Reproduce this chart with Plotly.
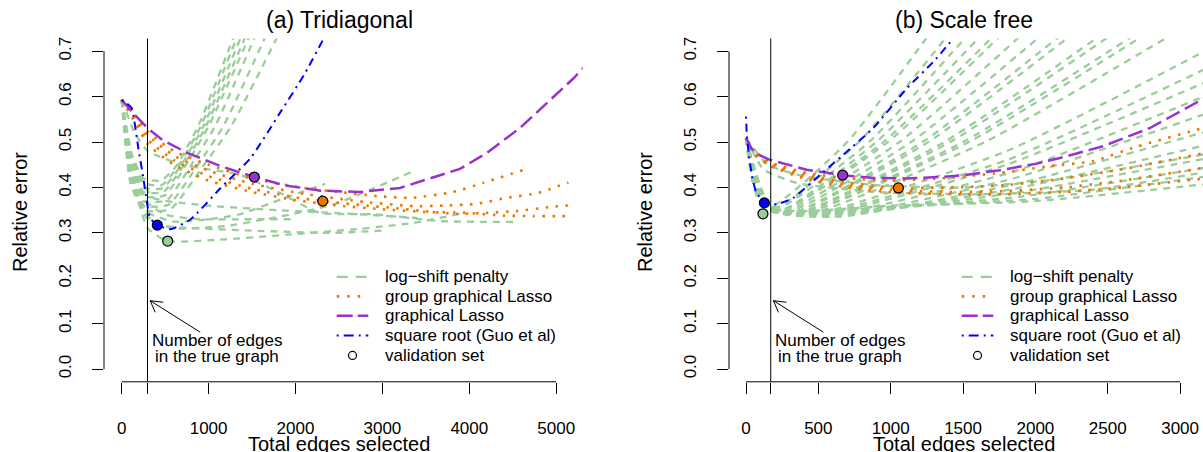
import plotly.graph_objects as go

# ---------------- data ----------------
# (a) Tridiagonal
true_edges_a = 297
left_logshift = [
    [(0, .593), (100, .48), (250, .42), (450, .415), (620, .445), (880, .535), (1295, .735)],
    [(0, .593), (100, .47), (250, .41), (460, .405), (645, .445), (910, .535), (1335, .735)],
    [(0, .593), (100, .46), (250, .40), (470, .398), (670, .445), (940, .535), (1380, .735)],
    [(0, .593), (100, .45), (250, .39), (480, .39), (700, .445), (970, .535), (1430, .735)],
    [(0, .593), (100, .44), (250, .38), (500, .383), (725, .445), (1000, .535), (1475, .735)],
    [(0, .593), (100, .43), (250, .37), (520, .372), (785, .445), (1075, .535), (1540, .735)],
    [(0, .593), (100, .42), (250, .36), (540, .362), (860, .445), (1170, .535), (1660, .735)],
    [(0, .593), (100, .41), (250, .35), (560, .352), (930, .445), (1260, .535), (1800, .735)],
    [(0, .593), (120, .42), (300, .345), (600, .325), (1000, .33), (1362, .341), (1850, .375), (2342, .408)],
    [(0, .593), (120, .41), (300, .33), (600, .31), (1200, .315), (2054, .345), (2474, .365), (2900, .398), (3380, .438)],
    [(0, .593), (150, .40), (300, .31), (525, .282), (1131, .285), (1900, .296), (2742, .309), (3356, .322), (3893, .342)],
    [(0, .593), (150, .52), (300, .48), (700, .45), (1000, .44), (1362, .428), (1800, .39), (2281, .344), (2896, .341), (3664, .326), (4505, .324)],
    [(0, .593), (120, .47), (250, .41), (364, .377), (1000, .36), (1800, .35), (2742, .341), (3400, .333)],
    [(0, .593), (100, .44), (250, .35), (400, .318), (675, .312), (1500, .305), (2400, .30), (3000, .305)],
    [(0, .593), (130, .45), (280, .37), (500, .34), (900, .33), (1400, .33), (2000, .33)],
]
left_group = [
    [(0, .593), (150, .56), (300, .523), (600, .48), (1000, .45), (1500, .42), (2090, .399), (2500, .39), (3000, .38), (3337, .377), (3813, .39), (4158, .41), (4630, .439)],
    [(0, .593), (150, .555), (300, .515), (600, .47), (1000, .437), (1500, .408), (2130, .385), (2800, .368), (3356, .359), (3700, .360), (4085, .364), (4430, .377), (4794, .388), (5140, .411)],
    [(0, .593), (150, .55), (300, .505), (600, .46), (1000, .425), (1500, .397), (2000, .378), (2313, .370), (2820, .36), (3126, .355), (3471, .348), (3855, .342), (4200, .344), (4545, .348), (4929, .357), (5170, .361)],
    [(0, .593), (150, .545), (300, .495), (600, .45), (1000, .415), (1500, .39), (2000, .372), (2500, .36), (3000, .352), (3500, .346), (3970, .344), (4400, .338), (4737, .337), (5120, .337)],
]
left_glasso = [(0, .593), (150, .56), (295, .531), (467, .505), (755, .476), (1139, .447), (1526, .423), (1868, .405),
               (2290, .393), (2742, .390), (3202, .399), (3893, .441), (4200, .476), (4583, .531), (5197, .640), (5320, .665)]
left_sqrt = [(0, .593), (60, .585), (115, .575), (191, .487), (249, .421), (288, .37), (326, .333), (410, .317),
             (564, .308), (794, .330), (1139, .399), (1484, .465), (1830, .567), (2098, .648), (2330, .73)]
left_valid = {"logshift": (529, .282), "sqrt": (410, .317), "glasso": (1526, .423), "group": (2313, .370)}

# (b) Scale free
true_edges_b = 171
right_logshift = [
    [(0, .509), (60, .40), (180, .36), (700, .50), (1260, .735)],
    [(0, .509), (60, .40), (200, .355), (780, .50), (1395, .735)],
    [(0, .509), (70, .39), (220, .355), (850, .50), (1530, .735)],
    [(0, .509), (70, .39), (240, .35), (900, .50), (1625, .735)],
    [(0, .509), (80, .38), (250, .35), (950, .50), (1715, .735)],
    [(0, .509), (80, .38), (260, .352), (980, .50), (1760, .735)],
    [(0, .509), (90, .375), (280, .35), (1060, .50), (1900, .735)],
    [(0, .509), (90, .375), (300, .348), (1140, .50), (2040, .735)],
    [(0, .509), (100, .37), (320, .345), (1220, .50), (2175, .735)],
    [(0, .509), (100, .37), (330, .345), (1260, .50), (2245, .735)],
    [(0, .509), (110, .365), (350, .343), (1370, .50), (2450, .735)],
    [(0, .509), (110, .365), (360, .343), (1410, .50), (2520, .735)],
    [(0, .509), (120, .36), (380, .342), (1500, .50), (2680, .735)],
    [(0, .509), (120, .36), (390, .342), (1540, .50), (2750, .735)],
    [(0, .509), (130, .358), (420, .34), (1650, .50), (2935, .735)],
    [(0, .509), (130, .358), (450, .34), (1800, .48), (3200, .705)],
    [(0, .509), (140, .355), (480, .34), (1800, .46), (3200, .665)],
    [(0, .509), (140, .355), (500, .338), (1800, .45), (3200, .635)],
    [(0, .509), (150, .352), (550, .338), (1850, .435), (3200, .605)],
    [(0, .509), (150, .352), (600, .336), (1850, .42), (3200, .565)],
    [(0, .509), (160, .35), (650, .336), (1900, .41), (3200, .525)],
    [(0, .509), (160, .35), (700, .34), (1900, .40), (3200, .495)],
    [(0, .509), (170, .35), (750, .345), (1900, .39), (3200, .465)],
    [(0, .509), (170, .35), (800, .35), (1900, .38), (3200, .445)],
    [(0, .509), (180, .35), (900, .355), (2000, .375), (3200, .425)],
    [(0, .509), (180, .355), (1000, .36), (2000, .37), (3200, .408)],
    [(0, .509), (150, .45), (400, .425), (900, .405), (1500, .40), (2200, .42), (3200, .475)],
    [(0, .509), (120, .44), (350, .41), (900, .39), (1600, .385), (2400, .395), (3200, .435)],
]
right_group = [
    [(0, .509), (50, .48), (170, .455), (420, .432), (700, .42), (1000, .415), (1341, .42), (1755, .432), (2100, .447), (2400, .458), (2700, .49), (3091, .525), (3200, .535)],
    [(0, .509), (50, .478), (170, .452), (420, .428), (700, .41), (1053, .399), (1400, .40), (1800, .405), (2200, .42), (2600, .44), (3200, .478)],
    [(0, .509), (50, .476), (170, .45), (420, .423), (700, .405), (1000, .395), (1400, .39), (1800, .392), (2200, .40), (2600, .415), (3200, .445)],
    [(0, .509), (50, .474), (170, .447), (420, .418), (700, .40), (1000, .39), (1400, .385), (1800, .385), (2200, .39), (2600, .40), (3200, .421)],
]
right_glasso = [(0, .509), (40, .485), (100, .47), (166, .461), (419, .439), (668, .427), (880, .421), (1100, .42),
                (1341, .423), (1500, .427), (1755, .438), (2000, .452), (2170, .465), (2469, .491), (2792, .531),
                (3126, .589), (3200, .602)]
right_sqrt = [(0, .556), (5, .52), (20, .47), (45, .42), (70, .39), (127, .366), (212, .363), (327, .377),
              (488, .421), (672, .472), (880, .531), (1111, .618), (1295, .677), (1433, .728)]
right_valid = {"logshift": (117, .342), "sqrt": (127, .366), "glasso": (668, .427), "group": (1053, .399)}

yticks = [0.0, 0.1, 0.2, 0.3, 0.4, 0.5, 0.6, 0.7]
xticks_a = [0, 1000, 2000, 3000, 4000, 5000]
xticks_b = [0, 500, 1000, 1500, 2000, 2500, 3000]
legend_labels = ["log\u2212shift penalty", "group graphical Lasso", "graphical Lasso",
                 "square root (Guo et al)", "validation set"]

# ---------------- styles / layout constants ----------------
W, H = 1203, 452
FONT = "Liberation Sans, Arial, Helvetica, sans-serif"
GREEN = "#9BCD9B"
ORANGE = "#EE7600"
PURPLE = "#9932CC"
BLUE = "#0000FF"
YR = [-0.028, 0.728]
PAN = {
    "a": dict(px0=104, px1=582.6, r0=-203.7, r1=5303.8, xa="x", ya="y"),
    "b": dict(px0=729, px1=1203, r0=-117.5, r1=3158.3, xa="x2", ya="y2"),
}
PY_TOP, PY_BOT = 36.7, 381.5


def pxx(p, v):
    P = PAN[p]
    return P["px0"] + (v - P["r0"]) / (P["r1"] - P["r0"]) * (P["px1"] - P["px0"])


def pyy(v):
    return PY_TOP + (YR[1] - v) / (YR[1] - YR[0]) * (PY_BOT - PY_TOP)


def fx(x):
    return x / W


def fy(y):
    return 1 - y / H


fig = go.Figure()

styles = {
    "logshift": dict(color=GREEN, width=2.3, dash="7px,6px"),
    "group": dict(color=ORANGE, width=2.6, dash="2.5px,7.5px"),
    "glasso": dict(color=PURPLE, width=2.5, dash="15px,6px"),
    "sqrt": dict(color=BLUE, width=2.0, dash="2px,5px,8px,5px"),
}


def add_curve(pts, p, kind, shape="spline"):
    line = dict(styles[kind])
    if shape == "spline":
        line.update(shape="spline", smoothing=0.5)
    fig.add_trace(go.Scatter(x=[a for a, b in pts], y=[b for a, b in pts], mode="lines",
                             line=line, xaxis=PAN[p]["xa"], yaxis=PAN[p]["ya"],
                             hoverinfo="skip", showlegend=False))


for p, ls, grp, gl, sq, val in [("a", left_logshift, left_group, left_glasso, left_sqrt, left_valid),
                                ("b", right_logshift, right_group, right_glasso, right_sqrt, right_valid)]:
    for c in ls:
        add_curve(c, p, "logshift")
    for c in grp:
        add_curve(c, p, "group")
    add_curve(gl, p, "glasso", shape="linear")
    add_curve(sq, p, "sqrt")
    fills = {"logshift": GREEN, "sqrt": BLUE, "glasso": PURPLE, "group": ORANGE}
    for k in ["logshift", "sqrt", "glasso", "group"]:
        fig.add_trace(go.Scatter(x=[val[k][0]], y=[val[k][1]], mode="markers",
                                 marker=dict(size=10, color=fills[k], line=dict(color="black", width=1.2)),
                                 xaxis=PAN[p]["xa"], yaxis=PAN[p]["ya"], hoverinfo="skip",
                                 showlegend=False, cliponaxis=False))

axis_common = dict(showgrid=False, zeroline=False, showline=False, ticks="outside", ticklen=11,
                   tickwidth=1, tickcolor="black", tickfont=dict(family=FONT, size=17, color="black"))

fig.update_layout(
    width=W, height=H, margin=dict(l=0, r=0, t=0, b=0),
    paper_bgcolor="white", plot_bgcolor="white", showlegend=False,
    font=dict(family=FONT, color="black"),
    xaxis=dict(domain=[fx(PAN["a"]["px0"]), fx(PAN["a"]["px1"])], range=[PAN["a"]["r0"], PAN["a"]["r1"]],
               tickvals=[0, true_edges_a] + xticks_a[1:], ticktext=["0", ""] + [str(t) for t in xticks_a[1:]],
               anchor="y", ticklabelstandoff=20, **axis_common),
    yaxis=dict(domain=[fy(PY_BOT), fy(PY_TOP)], range=YR, tickvals=yticks,
               ticktext=["%.1f" % t for t in yticks], tickangle=-90, anchor="x",
               ticklabelstandoff=14, **axis_common),
    xaxis2=dict(domain=[fx(PAN["b"]["px0"]), fx(PAN["b"]["px1"])], range=[PAN["b"]["r0"], PAN["b"]["r1"]],
                tickvals=[0, true_edges_b] + xticks_b[1:], ticktext=["0", ""] + [str(t) for t in xticks_b[1:]],
                anchor="y2", ticklabelstandoff=20, **axis_common),
    yaxis2=dict(domain=[fy(PY_BOT), fy(PY_TOP)], range=YR, tickvals=yticks,
                ticktext=["%.1f" % t for t in yticks], tickangle=-90, anchor="x2",
                ticklabelstandoff=14, **axis_common),
)

shapes = []
annotations = []


def seg(x0, y0, x1, y1, color="black", width=1, dash=None):
    d = dict(type="line", xref="paper", yref="paper", x0=fx(x0), y0=fy(y0), x1=fx(x1), y1=fy(y1),
             line=dict(color=color, width=width))
    if dash:
        d["line"]["dash"] = dash
    shapes.append(d)


def text(x, y, s, size=17, xanchor="center", angle=0):
    annotations.append(dict(x=fx(x), y=fy(y), xref="paper", yref="paper", text=s, showarrow=False,
                            xanchor=xanchor, yanchor="middle", textangle=angle,
                            font=dict(family=FONT, size=size, color="black")))


for p, ticks, te, title in [("a", xticks_a, true_edges_a, "(a) Tridiagonal"),
                            ("b", xticks_b, true_edges_b, "(b) Scale free")]:
    P = PAN[p]
    # R-style axis lines spanning first..last tick
    seg(pxx(p, ticks[0]), PY_BOT, pxx(p, ticks[-1]), PY_BOT)
    seg(P["px0"], pyy(yticks[0]), P["px0"], pyy(yticks[-1]))
    # vertical line at true number of edges
    vx = pxx(p, te)
    seg(vx, PY_TOP, vx, PY_BOT)
    # arrow
    hx, hy = vx + 2.7, 300
    seg(hx + 50, hy + 31.7, hx, hy)
    seg(hx, hy, hx + 13, hy + 1.6)
    seg(hx, hy, hx + 5, hy + 11.7)
    text(vx + 69.4, 340, "Number of edges")
    text(vx + 69.4, 356.5, "in the true graph")
    # titles
    cx = (P["px0"] + P["px0"] + 478.6) / 2
    text(cx - 4, 18, title, size=23)
    text(cx - 4, 444, "Total edges selected", size=20)
    text(P["px0"] - 84, 211, "Relative error", size=20, angle=-90)
    # legend
    off = P["px0"] - 104
    rows = [276, 295.7, 315.2, 335, 355]
    kinds = ["logshift", "group", "glasso", "sqrt"]
    leg_dash = {"logshift": "11px,8px", "group": "2.5px,8px", "glasso": "16px,5px", "sqrt": "2px,5px,10px,5px"}
    for r, k in zip(rows[:4], kinds):
        st = styles[k]
        seg(336.7 + off, r, 368.3 + off, r, color=st["color"], width=st["width"], dash=leg_dash[k])
    shapes.append(dict(type="circle", xref="paper", yref="paper",
                       x0=fx(352.5 + off - 4), x1=fx(352.5 + off + 4), y0=fy(355 + 4), y1=fy(355 - 4),
                       line=dict(color="black", width=1.2), fillcolor="white"))
    for r, lab in zip(rows, legend_labels):
        text(382.7 + off, r, lab, xanchor="left")

fig.update_layout(shapes=shapes, annotations=annotations)
fig.write_html("out.html", config={"displayModeBar": False},
               post_script="document.body.style.margin='0px';document.body.style.overflow='hidden';")
